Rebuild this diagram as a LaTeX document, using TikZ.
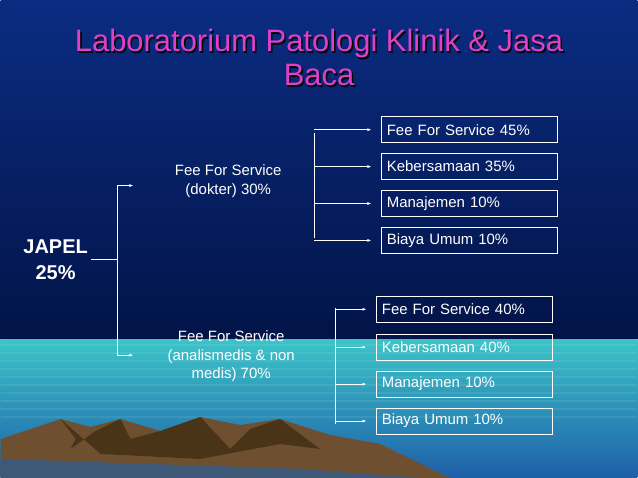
\documentclass[tikz,border=0pt]{standalone}
\usepackage{fontspec}
\setmainfont{Liberation Sans}
\usetikzlibrary{calc,arrows.meta}
\definecolor{skytop}{HTML}{0B2C82}
\definecolor{skybot}{HTML}{021448}
\definecolor{seatop}{HTML}{3CC4C8}
\definecolor{seabot}{HTML}{1E5FA8}
\definecolor{titlepink}{HTML}{E040C8}
\definecolor{rock}{HTML}{6E5030}
\definecolor{rockdark}{HTML}{4A3418}
\begin{document}
\begin{tikzpicture}[x=1pt, y=-1pt,
    share/.style={draw=white, line width=0.8pt, text=white, minimum width=176pt, minimum height=26pt, text width=166pt, align=left, inner sep=4pt, font=\fontsize{15}{17}\selectfont},
    branch/.style={text=white, align=center, font=\fontsize{15}{19}\selectfont},
    link/.style={draw=white, line width=0.8pt, -{Latex[length=4pt,width=3pt]}},
    bar/.style={draw=white, line width=0.8pt},
]
    %% background
    \shade[top color=skytop, bottom color=skybot] (0,0) rectangle (638,340);
    \shade[top color=seatop, bottom color=seabot] (0,340) rectangle (638,479);
    \foreach \y in {346,354,...,420} \draw[white, opacity=0.08, line width=1.5pt] (0,\y) -- (638,\y);
    \fill[rock] (0,479) -- (0,440) -- (30,430) -- (60,420) -- (90,428) -- (120,420) -- (160,432) -- (200,418) -- (240,426) -- (280,420) -- (330,436) -- (380,445) -- (450,479) -- cycle;
    \fill[rockdark] (60,420) -- (75,440) -- (70,450) -- (95,432) -- (120,420) -- (130,440) -- (160,432) -- (200,418) -- (230,450) -- (250,430) -- (280,420) -- (320,450) -- (280,445) -- (200,460) -- (100,455) -- cycle;
    \fill[seabot!60!rock] (0,479) -- (0,460) -- (150,465) -- (300,470) -- (420,479) -- cycle;
    %% title
    \foreach \dx/\col in {1.5/black, 0/titlepink} {
        \node[text=\col, font=\fontsize{31}{34}\selectfont, align=center] at (319+\dx, 58+\dx) {Laboratorium Patologi Klinik \& Jasa\\Baca};
    }
    %% nodes
    \node[text=white, font=\bfseries\fontsize{20}{26}\selectfont, align=center] (japel) at (55, 260) {JAPEL\\25\%};
    \node[branch] (dokter) at (228, 182) {Fee For Service\\(dokter) 30\%};
    \node[branch] (analis) at (231, 357) {Fee For Service\\(analismedis \& non\\medis) 70\%};
    \node[share] (a1) at (470, 130) {Fee For Service 45\%};
    \node[share] (a2) at (470, 167) {Kebersamaan 35\%};
    \node[share] (a3) at (470, 204) {Manajemen 10\%};
    \node[share] (a4) at (470, 241) {Biaya Umum 10\%};
    \node[share] (b1) at (465, 310) {Fee For Service 40\%};
    \node[share] (b2) at (465, 348) {Kebersamaan 40\%};
    \node[share] (b3) at (465, 385) {Manajemen 10\%};
    \node[share] (b4) at (465, 422) {Biaya Umum 10\%};
    %% connectors
    \coordinate (jfork) at (117, 260);
    \coordinate (jtop) at (117, 186);
    \coordinate (jbot) at (117, 356);
    \draw[bar] (japel.east) -- (jfork);
    \draw[bar] (jtop) -- (jbot);
    \draw[link] (jtop) -- (133, 186);
    \draw[link] (jbot) -- (133, 356);
    \coordinate (atop) at (314, 133);
    \coordinate (abot) at (314, 239);
    \draw[bar] (atop) -- (abot);
    \foreach \n in {1,...,4} \draw[link] (a\n.west -| atop) -- ($(a\n.west)+(-10,0)$);
    \coordinate (btop) at (335, 309);
    \coordinate (bbot) at (335, 425);
    \draw[bar] (btop) -- (bbot);
    \foreach \n in {1,...,4} \draw[link] (b\n.west -| btop) -- ($(b\n.west)+(-10,0)$);
\end{tikzpicture}
\end{document}
